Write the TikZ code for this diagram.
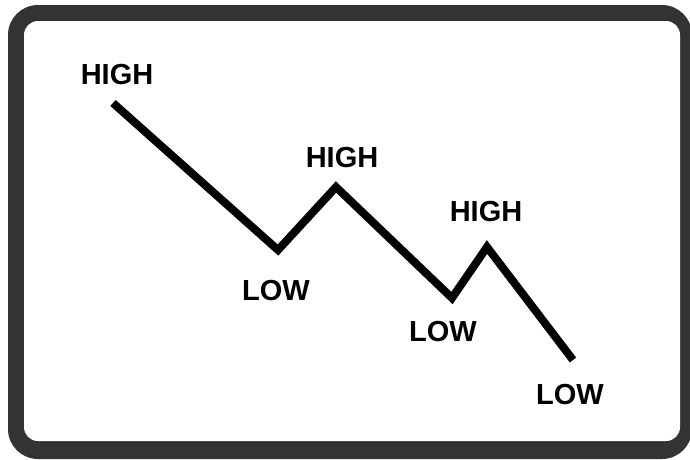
\documentclass[tikz,border=0pt]{standalone}
\usepackage{fontspec}
\setmainfont{Liberation Sans}
\begin{document}
\begin{tikzpicture}[x=1pt,y=-1pt,
  lbl/.style={font=\bfseries\fontsize{29}{32}\selectfont, inner sep=0pt, anchor=center},
  trend/.style={line width=8pt, line join=miter, black}]
\useasboundingbox (0,0) rectangle (690,459);
\fill[black!80, rounded corners=30pt] (8,5) rectangle (692,459);
\fill[white, rounded corners=14pt] (24,21) rectangle (680,441);
\coordinate (p0) at (113,103);
\coordinate (p1) at (278,250);
\coordinate (p2) at (336,187);
\coordinate (p3) at (452,298);
\coordinate (p4) at (487,247);
\coordinate (p5) at (573,360);
\draw[trend] (p0) -- (p1) -- (p2) -- (p3) -- (p4) -- (p5);
\node[lbl] (h1) at (117,75) {HIGH};
\node[lbl] (h2) at (342,158) {HIGH};
\node[lbl] (h3) at (486,212) {HIGH};
\node[lbl] (l1) at (276,291) {LOW};
\node[lbl] (l2) at (443,332) {LOW};
\node[lbl] (l3) at (570,395) {LOW};
\end{tikzpicture}
\end{document}
